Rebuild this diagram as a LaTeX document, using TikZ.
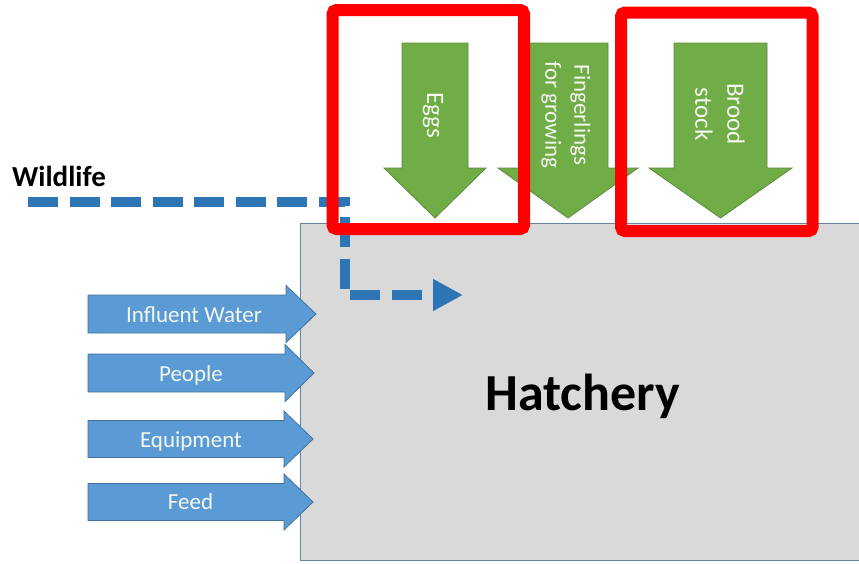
\documentclass[tikz,border=0pt]{standalone}
\usepackage{fontspec}
\setmainfont{Carlito}
\usetikzlibrary{arrows.meta}
\definecolor{grn}{HTML}{70AD47}
\definecolor{grnline}{HTML}{5B8A3C}
\definecolor{blu}{HTML}{5B9BD5}
\definecolor{bluline}{HTML}{41719C}
\definecolor{dashblue}{HTML}{2E75B6}
\definecolor{hatchgray}{HTML}{D9D9D9}
\definecolor{hatchline}{HTML}{6384A8}
\definecolor{lighttext}{HTML}{F4F7F0}
\newcommand\dnarrow[7]{%
  \draw[#7] (#1-#2,#4) -- (#1+#2,#4) -- (#1+#2,#5) -- (#1+#3,#5) -- (#1,#6)
    -- (#1-#3,#5) -- (#1-#2,#5) -- cycle;}
\newcommand\rtarrow[7]{%
  \draw[#7] (#4,#1-#2) -- (#5,#1-#2) -- (#5,#1-#3) -- (#6,#1) -- (#5,#1+#3)
    -- (#5,#1+#2) -- (#4,#1+#2) -- cycle;}
\begin{document}
\begin{tikzpicture}[x=1pt,y=-1pt,
  greenarrow/.style={fill=grn,draw=grnline,line width=0.8pt},
  bluearrow/.style={fill=blu,draw=bluline,line width=0.8pt},
  greentext/.style={text=lighttext,inner sep=0pt,rotate=-90,align=center},
  bluetext/.style={text=lighttext,inner sep=0pt,anchor=base,font=\fontsize{23}{27}\selectfont},
  hatchbox/.style={fill=hatchgray,draw=hatchline,line width=1.3pt,inner sep=0pt,anchor=north west},
  redbox/.style={draw=red,line width=12pt,rounded corners=4pt,inner sep=0pt},
  wildpath/.style={draw=dashblue,line width=10pt,dash pattern=on 30pt off 11.5pt,
    -{Triangle[length=30pt,width=30pt]}}]
\useasboundingbox (0,0) rectangle (859,563);
\fill[white] (0,0) rectangle (859,563);

% Hatchery
\node[hatchbox,minimum width=580pt,minimum height=337pt] (hatch) at (300,223) {};
\node[anchor=base,inner sep=0pt,font=\bfseries\fontsize{52}{60}\selectfont] (hatchlabel) at (582.5,410) {Hatchery};

% Wildlife path
\node[anchor=base west,inner sep=0pt,font=\bfseries\fontsize{29}{33}\selectfont] (wildlife) at (12,186) {Wildlife};
\coordinate (w0) at (28,202);
\coordinate (w1) at (345,202);
\coordinate (w2) at (345,295);
\coordinate (w3) at (463,295);
\draw[wildpath] (w0) -- (w1) -- (w2) -- (w3);

% Green arrows
\dnarrow{435}{33}{51}{43}{168}{218}{greenarrow}
\node[greentext,font=\fontsize{25}{30}\selectfont,anchor=base] (eggs) at (427,115) {Eggs};
\dnarrow{568}{40}{70}{43}{168}{218}{greenarrow}
\node[greentext,font=\fontsize{23}{29}\selectfont] (fing) at (566,115) {Fingerlings\\for growing};
\dnarrow{720.5}{46.5}{71.5}{43}{168}{218}{greenarrow}
\node[greentext,font=\fontsize{25}{32}\selectfont] (brood) at (720,114) {Brood\\stock};

% Blue arrows
\rtarrow{314}{19}{28.5}{88}{286}{316}{bluearrow}
\node[bluetext] (water) at (194,322) {Influent Water};
\rtarrow{373}{19}{28.5}{88}{285}{314}{bluearrow}
\node[bluetext] (people) at (191,381) {People};
\rtarrow{439}{18.5}{28}{88}{284}{313}{bluearrow}
\node[bluetext] (equip) at (191,447) {Equipment};
\rtarrow{502}{18.5}{28}{88}{284}{313}{bluearrow}
\node[bluetext] (feed) at (190.5,509) {Feed};

% Red highlight boxes
\node[redbox,minimum width=191.5pt,minimum height=219pt] (hl1) at (428.25,119.5) {};
\node[redbox,minimum width=191.5pt,minimum height=218.5pt] (hl2) at (716.75,121.75) {};
\end{tikzpicture}
\end{document}
